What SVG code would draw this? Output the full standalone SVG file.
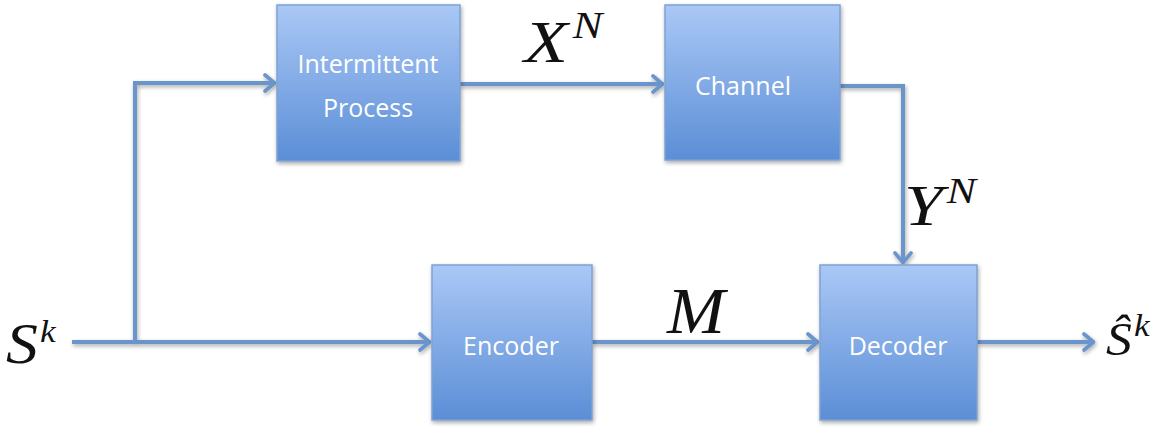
<svg xmlns="http://www.w3.org/2000/svg" width="1175" height="427" viewBox="0 0 1175 427">
<defs>
<linearGradient id="g" x1="0" y1="0" x2="0" y2="1">
<stop offset="0" stop-color="#aac8f6"/>
<stop offset="1" stop-color="#5b8ed6"/>
</linearGradient>
<filter id="sh" x="-10%" y="-10%" width="125%" height="125%">
<feGaussianBlur in="SourceAlpha" stdDeviation="2"/>
<feOffset dx="1" dy="2" result="b"/>
<feComponentTransfer><feFuncA type="linear" slope="0.35"/></feComponentTransfer>
<feMerge><feMergeNode/><feMergeNode in="SourceGraphic"/></feMerge>
</filter>
<marker id="ah" markerWidth="14" markerHeight="20" refX="11" refY="10" orient="auto" markerUnits="userSpaceOnUse" viewBox="0 0 14 20">
<path d="M2,2 L11.5,10 L2,18" fill="none" stroke="#6b95cc" stroke-width="3.6" stroke-linecap="round" stroke-linejoin="round"/>
</marker>
</defs>
<style>
.box{fill:url(#g);stroke:#7da2d4;stroke-width:1.5;filter:url(#sh)}
.lbl{font-family:"Open Sans","Liberation Sans",sans-serif;font-size:25px;fill:#ffffff;text-anchor:middle}
.cn{fill:none;stroke:#6b95cc;stroke-width:4}
.m{font-family:"Liberation Serif","DejaVu Serif",serif;font-style:italic;fill:#111}
</style>
<rect width="1175" height="427" fill="#ffffff"/>
<g id="connectors" filter="url(#sh)">
<path class="cn" d="M72,342 H429" marker-end="url(#ah)"/>
<path class="cn" d="M135,342 V83 H274" marker-end="url(#ah)"/>
<path class="cn" d="M460,84 H662" marker-end="url(#ah)"/>
<path class="cn" d="M840,86 H903 V262" marker-end="url(#ah)"/>
<path class="cn" d="M592,342 H817" marker-end="url(#ah)"/>
<path class="cn" d="M977,342 H1093" marker-end="url(#ah)"/>
</g>
<g id="intermittent">
<rect class="box" x="277" y="5" width="183" height="156"/>
<text class="lbl" x="368" y="73">Intermittent</text>
<text class="lbl" x="368" y="117">Process</text>
</g>
<g id="channel">
<rect class="box" x="665" y="5" width="175" height="155"/>
<text class="lbl" x="743" y="95">Channel</text>
</g>
<g id="encoder">
<rect class="box" x="432" y="265" width="160" height="155"/>
<text class="lbl" x="511" y="355">Encoder</text>
</g>
<g id="decoder">
<rect class="box" x="820" y="265" width="157" height="155"/>
<text class="lbl" x="898" y="355">Decoder</text>
</g>
<g id="labels">
<text class="m" transform="translate(524,62) scale(1.2,1)" font-size="60">X<tspan font-size="37" dx="4" dy="-24">N</tspan></text>
<text class="m" transform="translate(904,225) scale(1.25,1)" font-size="56">Y<tspan font-size="35" dx="3" dy="-22">N</tspan></text>
<text class="m" transform="translate(667,333) scale(1.07,1)" font-size="65">M</text>
<text class="m" transform="translate(6,363) scale(1.1,1)" font-size="58">S<tspan font-size="32" dx="2" dy="-21">k</tspan></text>
<text class="m" transform="translate(1106,355) scale(1.1,1)" font-size="47">Ŝ<tspan font-size="32" dx="2" dy="-19">k</tspan></text>
</g>
</svg>
